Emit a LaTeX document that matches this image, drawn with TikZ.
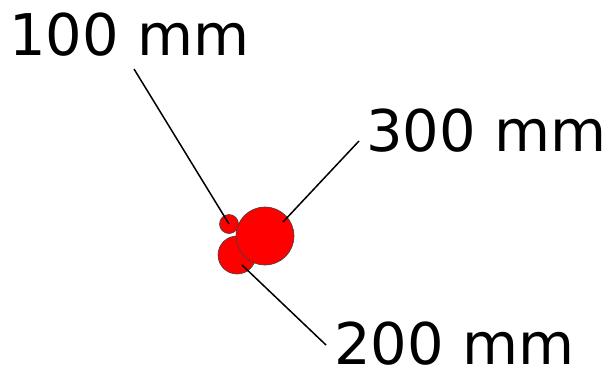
\documentclass[tikz,border=0pt]{standalone}
\usepackage{fontspec}
\setmainfont{DejaVu Sans}

\tikzset{
  lbl/.style={font=\fontsize{57.5}{62}\selectfont,inner sep=0pt,anchor=base west},
  blob/.style={circle,fill=red,draw=black!75,line width=0.6pt,inner sep=0pt},
  lead/.style={line width=1.5pt}
}

\begin{document}
\begin{tikzpicture}[x=1pt,y=-1pt]
  \useasboundingbox (0,0) rectangle (609,370);
  % labels
  \node[lbl] (l100) at (9,55) {100 mm};
  \node[lbl] (l300) at (366,151) {300 mm};
  \node[lbl] (l200) at (334,364) {200 mm};
  % spots
  \node[blob,minimum size=19pt] (c100) at (229,224) {};
  \node[blob,minimum size=38pt] (c200) at (237,255) {};
  \node[blob,minimum size=58pt] (c300) at (265,236) {};
  % leader ends
  \coordinate (e100) at (134,69);
  \coordinate (e300) at (359,141);
  \coordinate (a300) at (283,222);
  \coordinate (e200) at (326,345);
  \coordinate (a200) at (242,265);
  \draw[lead] (e100)--(c100.center);
  \draw[lead] (e300)--(a300);
  \draw[lead] (a200)--(e200);
\end{tikzpicture}
\end{document}
